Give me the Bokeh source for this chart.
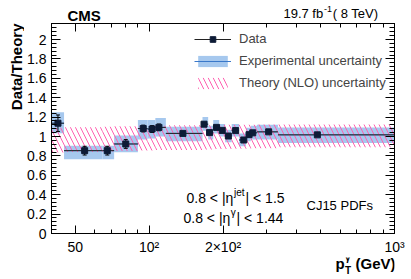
import numpy as np
from bokeh.plotting import figure
from bokeh.layouts import row, column
from bokeh.models import (FixedTicker, LogAxis, LinearAxis, Label, Legend,
                          LegendItem, ColumnDataSource, Range1d)
from bokeh.core.properties import value
from bokeh.embed import file_html
from bokeh.resources import INLINE

# ---- data ----
bin_lo = [40, 45, 64.5, 72, 90, 98.5, 106, 117, 165, 174, 182.5, 193, 204, 217, 232.5, 248, 259.5, 275, 335]
bin_hi = [45, 64.5, 72, 90, 98.5, 106, 117, 165, 174, 182.5, 193, 204, 217, 232.5, 248, 259.5, 275, 335, 1000]
pt = [42.5, 54.6, 67.5, 80.3, 94.6, 102.8, 109.6, 137.3, 167.4, 176.3, 188.2, 198.6, 210.3, 225.2, 243.1, 255.4, 264.4, 306.9, 484.8]
ratio = [1.137, 0.854, 0.854, 0.923, 1.082, 1.077, 1.094, 1.032, 1.127, 1.040, 1.094, 1.063, 1.005, 1.061, 0.964, 1.019, 1.038, 1.048, 1.017]
stat_err = [0.085, 0.045, 0.045, 0.045, 0.035, 0.035, 0.035, 0.012, 0.02, 0.02, 0.02, 0.02, 0.02, 0.02, 0.02, 0.02, 0.02, 0.015, 0.015]
exp_lo = [1.034, 0.765, 0.765, 0.837, 0.97, 0.98, 1.0, 0.95, 1.06, 0.97, 1.03, 1.0, 0.94, 1.0, 0.90, 0.95, 0.97, 0.97, 0.933]
exp_hi = [1.249, 0.905, 0.905, 1.01, 1.17, 1.17, 1.19, 1.10, 1.20, 1.11, 1.17, 1.13, 1.07, 1.13, 1.03, 1.09, 1.11, 1.12, 1.092]
th_lo = [0.835, 0.84, 0.845, 0.85, 0.855, 0.855, 0.86, 0.86, 0.865, 0.865, 0.87, 0.87, 0.87, 0.875, 0.875, 0.875, 0.88, 0.88, 0.89]
th_hi = [1.09, 1.095, 1.10, 1.105, 1.11, 1.11, 1.11, 1.115, 1.115, 1.115, 1.115, 1.12, 1.12, 1.12, 1.12, 1.12, 1.12, 1.125, 1.125]

y_major = [0, 0.2, 0.4, 0.6, 0.8, 1, 1.2, 1.4, 1.6, 1.8, 2]
y_labels = ["0", "0.2", "0.4", "0.6", "0.8", "1", "1.2", "1.4", "1.6", "1.8", "2"]
y_minor = [round(v, 2) for v in np.arange(0, 2.17, 0.04)]
x_major = [50, 100, 200, 1000]
x_labels = ["50", "10²", "2×10²", "10³"]
x_minor = [40, 60, 70, 80, 90, 300, 400, 500, 600, 700, 800, 900]

FONT = "Liberation Sans"
BLUE = "#a6c8ee"
BLUE_LINE = "#3a78c9"
PINK = "#ff5fb0"
NAVY = "#0d1b36"

LEFT_W = 24
RIGHT_W = 411 - LEFT_W
HEAD_H = 21
FOOT_H = 22
MAIN_H = 279 - HEAD_H - FOOT_H
BORDER_L = 25
BORDER_R = 17


def mk(x, y, text, size, align="left", bold=False, angle=0):
    return Label(x=x, y=y, x_units="screen", y_units="screen", text=text,
                 text_font=FONT, text_font_size=size, text_align=align,
                 text_baseline="alphabetic", angle=angle,
                 text_font_style="bold" if bold else "normal",
                 text_color="black")


def blank(w, h, left=0, right=0):
    f = figure(width=w, height=h, x_range=Range1d(0, 1), y_range=Range1d(0, 1),
               x_axis_location=None, y_axis_location=None,
               output_backend="svg", toolbar_location=None,
               min_border=0, min_border_left=left, min_border_right=right,
               min_border_top=0, min_border_bottom=0, outline_line_color=None)
    f.grid.visible = False
    f.background_fill_color = "white"
    f.border_fill_color = "white"
    return f


# ---- main plot ----
p = figure(width=RIGHT_W, height=MAIN_H, x_axis_type="log",
           x_range=Range1d(40, 1000), y_range=Range1d(0, 2.165),
           output_backend="svg", toolbar_location=None,
           min_border_left=BORDER_L, min_border_right=BORDER_R,
           min_border_top=2, min_border_bottom=22)
p.grid.visible = False
p.outline_line_color = "black"
p.background_fill_color = "white"
p.border_fill_color = "white"

xa = p.xaxis[0]
xa.ticker = FixedTicker(ticks=x_major, minor_ticks=x_minor)
xa.major_label_overrides = dict(zip(x_major, x_labels))
ya = p.yaxis[0]
ya.ticker = FixedTicker(ticks=y_major, minor_ticks=y_minor)
ya.major_label_overrides = dict(zip(y_major, y_labels))
for ax in (xa, ya):
    ax.major_label_text_font = FONT
    ax.major_label_text_font_size = "14px"
    ax.major_label_text_color = "black"
    ax.axis_line_color = "black"
    ax.major_tick_line_color = "black"
    ax.minor_tick_line_color = "black"
    ax.major_tick_out = 0
    ax.minor_tick_out = 0
xa.major_tick_in = 8
xa.minor_tick_in = 4
xa.major_label_standoff = 5
ya.major_tick_in = 9
ya.minor_tick_in = 5
ya.major_label_standoff = 5

top = LogAxis(ticker=FixedTicker(ticks=x_major, minor_ticks=x_minor),
              major_label_overrides={t: "" for t in x_major},
              major_label_text_font_size="1px", major_label_standoff=0,
              major_tick_in=8, major_tick_out=0, minor_tick_in=4, minor_tick_out=0)
p.add_layout(top, "above")
right = LinearAxis(ticker=FixedTicker(ticks=y_major, minor_ticks=y_minor),
                   major_label_overrides={t: "" for t in y_major},
                   major_label_text_font_size="1px", major_label_standoff=0,
                   major_tick_in=9, major_tick_out=0, minor_tick_in=5, minor_tick_out=0)
p.add_layout(right, "right")

src = ColumnDataSource(dict(
    lo=bin_lo, hi=bin_hi, x=pt, y=ratio,
    elo=exp_lo, ehi=exp_hi, tlo=th_lo, thi=th_hi,
    slo=[r - s for r, s in zip(ratio, stat_err)],
    shi=[r + s for r, s in zip(ratio, stat_err)],
))

r_exp = p.quad(left="lo", right="hi", bottom="elo", top="ehi", source=src,
               fill_color=BLUE, line_color=None)
r_expline = p.segment(x0="lo", x1="hi", y0="y", y1="y", source=src,
                      line_color=BLUE_LINE, line_width=1)
r_th = p.quad(left="lo", right="hi", bottom="tlo", top="thi", source=src,
              fill_color=None, line_color=None, hatch_pattern="\\",
              hatch_color=PINK, hatch_scale=10, hatch_weight=1)
r_hbar = p.segment(x0="lo", x1="hi", y0="y", y1="y", source=src,
                   line_color="#222222", line_width=1)
p.segment(x0="x", x1="x", y0="slo", y1="shi", source=src, line_color="black", line_width=1)
p.scatter(x="x", y="slo", source=src, marker="dash", size=4, line_color="black")
p.scatter(x="x", y="shi", source=src, marker="dash", size=4, line_color="black")
r_pts = p.scatter(x="x", y="y", source=src, marker="square", size=6,
                  fill_color=NAVY, line_color=NAVY)

legend = Legend(items=[
    LegendItem(label=value("Data"), renderers=[r_hbar, r_pts]),
    LegendItem(label=value("Experimental uncertainty"), renderers=[r_exp, r_expline]),
    LegendItem(label=value("Theory (NLO) uncertainty"), renderers=[r_th]),
], location=(143, 143), glyph_width=37, glyph_height=14, label_height=14,
   label_standoff=8, spacing=7, padding=0, margin=0,
   border_line_color=None, background_fill_alpha=0,
   label_text_font=FONT, label_text_font_size="13px")
p.add_layout(legend)

for lb in [
    mk(135, 35.3, "0.8 < |η", "14px"),
    mk(182.5, 40.8, "jet", "10px"),
    mk(194, 35.3, "| < 1.5", "14px"),
    mk(132, 15.3, "0.8 < |η", "14px"),
    mk(179.3, 20.8, "γ", "10px"),
    mk(185, 15.3, "| < 1.44", "14px"),
    mk(255, 27.7, "CJ15 PDFs", "13px"),
]:
    p.add_layout(lb)

# ---- header strip (frame aligned with the main frame) ----
head = blank(RIGHT_W, HEAD_H, BORDER_L, BORDER_R)
for lb in [
    mk(16, 6.3, "CMS", "15px", bold=True),
    mk(271.7, 8.2, "19.7 fb", "13px", align="right"),
    mk(272.5, 12.7, "-1", "9px"),
    mk(326.7, 8.2, "( 8 TeV)", "13px", align="right"),
]:
    head.add_layout(lb)

# ---- footer strip (x title) ----
foot = blank(RIGHT_W, FOOT_H, BORDER_L, BORDER_R)
for lb in [
    mk(284, 16.5, "p", "15px", bold=True),
    mk(293.5, 22, "γ", "10px", bold=True),
    mk(293.5, 9, "T", "10px", bold=True),
    mk(344, 16.5, "(GeV)", "15px", align="right", bold=True),
]:
    foot.add_layout(lb)

# ---- left strip (y title) ----
side = blank(LEFT_W, 279)
side.add_layout(mk(15.5, 256, "Data/Theory", "15px", align="right", bold=True, angle=np.pi / 2))

layout = row(side, column(head, p, foot, spacing=0), spacing=0)

open("out.html", "w").write(file_html(layout, INLINE))
